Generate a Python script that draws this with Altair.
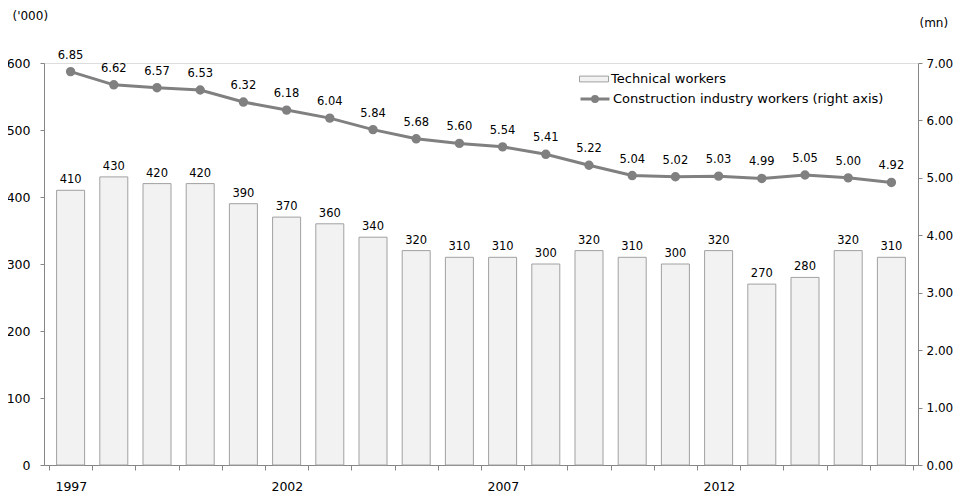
import altair as alt
import pandas as pd

years = list(range(1997, 2017))
technical = [410, 430, 420, 420, 390, 370, 360, 340, 320, 310,
             310, 300, 320, 310, 300, 320, 270, 280, 320, 310]
construction = [6.85, 6.62, 6.57, 6.53, 6.32, 6.18, 6.04, 5.84, 5.68, 5.60,
                5.54, 5.41, 5.22, 5.04, 5.02, 5.03, 4.99, 5.05, 5.00, 4.92]
left_ticks = [0, 100, 200, 300, 400, 500, 600]
right_ticks = [0, 1, 2, 3, 4, 5, 6, 7]

df = pd.DataFrame({"year": years, "tech": technical, "constr": construction})

FONT = "DejaVu Sans"
AXC = "#868686"
W, H = 874, 402
boundaries = [y - 0.5 for y in years] + [years[-1] + 0.5]

xscale = alt.Scale(domain=[years[0] - 0.5, years[-1] + 0.5], nice=False, zero=False)
xaxis = alt.Axis(values=boundaries, grid=False, domainColor=AXC, tickColor=AXC,
                 tickSize=5, labelOffset=W / len(years) / 2, labelOverlap=False,
                 labelFlush=False, labelPadding=10, labelFont=FONT, labelFontSize=12.5,
                 labelColor="black", title=None,
                 labelExpr="((datum.value + 0.5 - 1997) % 5 == 0 && datum.value < 2016) ? toString(datum.value + 0.5) : ''")

base = alt.Chart(df)

bars = base.mark_bar(size=28, stroke="#a0a0a0", strokeWidth=1).encode(
    x=alt.X("year:Q", scale=xscale, axis=xaxis),
    y=alt.Y("tech:Q", scale=alt.Scale(domain=[0, 600], nice=False),
            axis=alt.Axis(values=left_ticks, grid=False, domainColor=AXC, tickColor=AXC,
                          tickSize=4, labelPadding=10, labelFont=FONT, labelFontSize=12.5,
                          labelColor="black", title="('000)", titleAngle=0,
                          titleX=-32, titleY=-48, titleAlign="left", titleBaseline="middle",
                          titleFont=FONT, titleFontSize=12, titleFontWeight="normal",
                          titleColor="black")),
    fill=alt.Fill("s:N", scale=alt.Scale(domain=["Technical workers"], range=["#f2f2f2"]),
                  legend=alt.Legend(title=None, orient="none", legendX=535, legendY=1,
                                    symbolType="M-1,-0.2H1V0.2H-1Z", symbolSize=841,
                                    symbolStrokeColor="#a0a0a0", symbolStrokeWidth=1,
                                    labelFont=FONT, labelFontSize=13, labelColor="black",
                                    labelOffset=2, labelLimit=400, padding=0)),
).transform_calculate(s="'Technical workers'")

bar_text = base.mark_text(baseline="bottom", dy=-5, font=FONT, fontSize=11.5, color="black").encode(
    x=alt.X("year:Q", scale=xscale),
    y=alt.Y("tech:Q"),
    text=alt.Text("tech:Q", format="d"),
)

left = alt.layer(bars, bar_text)

line = base.mark_line(strokeWidth=3, point=alt.OverlayMarkDef(filled=True, size=55, color="#808080")).encode(
    x=alt.X("year:Q", scale=xscale),
    y=alt.Y("constr:Q", scale=alt.Scale(domain=[0, 7], nice=False),
            axis=alt.Axis(orient="right", values=right_ticks, format=".2f", grid=False,
                          domainColor=AXC, tickColor=AXC, tickSize=4, labelPadding=4,
                          labelFont=FONT, labelFontSize=12, labelColor="black",
                          title="(mn)", titleAngle=0, titleX=1, titleY=-41,
                          titleAlign="left", titleBaseline="middle", titleFont=FONT,
                          titleFontSize=12, titleFontWeight="normal", titleColor="black")),
    stroke=alt.Stroke("s:N", scale=alt.Scale(domain=["Construction industry workers (right axis)"],
                                             range=["#808080"]),
                      legend=alt.Legend(title=None, orient="none", legendX=535, legendY=20,
                                        symbolType="M-1,0H1M-0.17,0A0.17,0.17,0,1,0,0.17,0A0.17,0.17,0,1,0,-0.17,0",
                                        symbolSize=841, symbolStrokeWidth=3,
                                        symbolFillColor="#808080",
                                        labelFont=FONT, labelFontSize=13, labelColor="black",
                                        labelOffset=2, labelLimit=400, padding=0)),
).transform_calculate(s="'Construction industry workers (right axis)'")

line_text = base.mark_text(baseline="bottom", dy=-11, font=FONT, fontSize=11.5, color="black").encode(
    x=alt.X("year:Q", scale=xscale),
    y=alt.Y("constr:Q"),
    text=alt.Text("constr:Q", format=".2f"),
)

right = alt.layer(line, line_text)

chart = alt.layer(left, right).resolve_scale(y="independent", fill="independent",
                                            stroke="independent").properties(
    width=W, height=H,
    autosize=alt.AutoSizeParams(type="none"),
    padding={"left": 36, "top": 55, "right": 35, "bottom": 32},
).configure_view(stroke=None).configure(font=FONT)

chart.save("out.html", embed_options={"renderer": "svg", "actions": False})
